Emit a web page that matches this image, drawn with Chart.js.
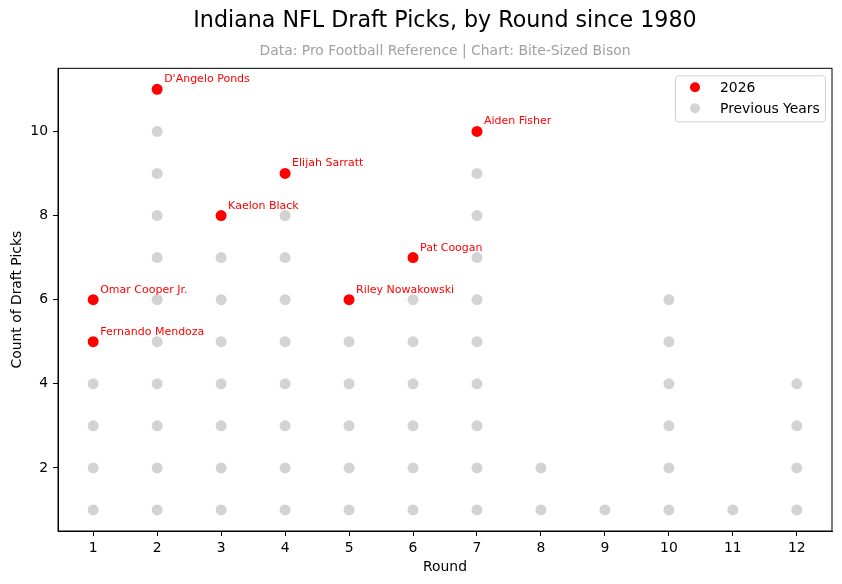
<!DOCTYPE html>
<html>
<head>
<meta charset="utf-8">
<script src="https://cdn.jsdelivr.net/npm/chart.js@4"></script>
<style>
  body { margin: 0; background: #fff; }
  #wrap { width: 842px; height: 584px; }
</style>
</head>
<body>
<div id="wrap"><canvas id="myChart" width="842" height="584"></canvas></div>
<script>
// 2026 picks
const picks2026 = [
  'Fernando Mendoza',
  'Omar Cooper Jr.',
  "D'Angelo Ponds",
  'Kaelon Black',
  'Elijah Sarratt',
  'Riley Nowakowski',
  'Pat Coogan',
  'Aiden Fisher',
];
const rounds2026 = [1, 1, 2, 3, 4, 5, 6, 7];
const counts2026 = [5, 6, 11, 8, 9, 6, 7, 10];

// previous years, one point per pick
const prevRounds = [
  1, 1, 1, 1,
  2, 2, 2, 2, 2, 2, 2, 2, 2, 2,
  3, 3, 3, 3, 3, 3, 3,
  4, 4, 4, 4, 4, 4, 4, 4,
  5, 5, 5, 5, 5,
  6, 6, 6, 6, 6, 6,
  7, 7, 7, 7, 7, 7, 7, 7, 7,
  8, 8,
  9,
  10, 10, 10, 10, 10, 10,
  11,
  12, 12, 12, 12,
];
const prevCounts = [
  1, 2, 3, 4,
  1, 2, 3, 4, 5, 6, 7, 8, 9, 10,
  1, 2, 3, 4, 5, 6, 7,
  1, 2, 3, 4, 5, 6, 7, 8,
  1, 2, 3, 4, 5,
  1, 2, 3, 4, 5, 6,
  1, 2, 3, 4, 5, 6, 7, 8, 9,
  1, 2,
  1,
  1, 2, 3, 4, 5, 6,
  1,
  1, 2, 3, 4,
];

const xTicks = [1, 2, 3, 4, 5, 6, 7, 8, 9, 10, 11, 12];
const yTicks = [2, 4, 6, 8, 10];

const FONT = "'DejaVu Sans', sans-serif";
const RED = '#ff0000';
const GREY = '#d3d3d3';

const toPoints = (xs, ys) => xs.map((x, i) => ({ x: x, y: ys[i] }));

// frame round the plot area
const frame = {
  id: 'frame',
  afterDraw(chart) {
    const { ctx, chartArea: a } = chart;
    ctx.save();
    ctx.strokeStyle = '#000';
    ctx.lineWidth = 1;
    ctx.strokeRect(a.left, a.top, a.right - a.left, a.bottom - a.top);
    ctx.restore();
  },
};

// player names next to the red points
const pickLabels = {
  id: 'pickLabels',
  afterDatasetsDraw(chart) {
    const { ctx, scales } = chart;
    ctx.save();
    ctx.font = '11px ' + FONT;
    ctx.fillStyle = RED;
    ctx.textAlign = 'left';
    ctx.textBaseline = 'alphabetic';
    picks2026.forEach((name, i) => {
      const px = scales.x.getPixelForValue(rounds2026[i]);
      const py = scales.y.getPixelForValue(counts2026[i]);
      ctx.fillText(name, px + 7, py - 7);
    });
    ctx.restore();
  },
};

// matplotlib-like legend, upper right
const boxLegend = {
  id: 'boxLegend',
  afterDraw(chart) {
    const { ctx, chartArea: a } = chart;
    const w = 150, h = 46;
    const x0 = a.right - 7 - w, y0 = a.top + 7;
    ctx.save();
    ctx.fillStyle = 'rgba(255,255,255,0.8)';
    ctx.strokeStyle = '#d0d0d0';
    ctx.lineWidth = 1;
    ctx.beginPath();
    ctx.roundRect(x0 + 0.5, y0 + 0.5, w, h, 3);
    ctx.fill();
    ctx.stroke();
    ctx.font = '13.9px ' + FONT;
    ctx.textBaseline = 'middle';
    chart.data.datasets.forEach((ds, i) => {
      const cy = y0 + 12 + i * 21;
      ctx.fillStyle = ds.backgroundColor;
      ctx.beginPath();
      ctx.arc(x0 + 20, cy, 5, 0, Math.PI * 2);
      ctx.fill();
      ctx.fillStyle = '#000';
      ctx.fillText(ds.label, x0 + 45, cy + 1);
    });
    ctx.restore();
  },
};

const ctx = document.getElementById('myChart').getContext('2d');
const myChart = new Chart(ctx, {
  type: 'scatter',
  data: {
    datasets: [
      {
        label: '2026',
        data: toPoints(rounds2026, counts2026),
        backgroundColor: RED,
        borderColor: RED,
        pointRadius: 5.5,
        borderWidth: 0,
      },
      {
        label: 'Previous Years',
        data: toPoints(prevRounds, prevCounts),
        backgroundColor: GREY,
        borderColor: GREY,
        pointRadius: 5.5,
        borderWidth: 0,
      },
    ],
  },
  options: {
    responsive: false,
    animation: false,
    devicePixelRatio: 1,
    layout: { padding: { left: 0, right: 10, top: 0, bottom: 0 } },
    plugins: {
      legend: { display: false },
      tooltip: { enabled: false },
      title: {
        display: true,
        fullSize: false,
        text: 'Indiana NFL Draft Picks, by Round since 1980',
        color: '#000',
        font: { family: FONT, size: 22.2, weight: 'normal' },
        padding: { top: 8, bottom: 8 },
      },
      subtitle: {
        display: true,
        fullSize: false,
        text: 'Data: Pro Football Reference | Chart: Bite-Sized Bison',
        color: '#a0a0a0',
        font: { family: FONT, size: 13.9, weight: 'normal' },
        padding: { top: 0, bottom: 9 },
      },
    },
    scales: {
      x: {
        type: 'linear',
        min: 0.45,
        max: 12.55,
        afterBuildTicks: (scale) => {
          scale.ticks = xTicks.map((v) => ({ value: v }));
        },
        afterFit: (scale) => {
          scale.height = 53;
        },
        ticks: {
          color: '#000',
          padding: 4,
          font: { family: FONT, size: 13.9 },
          maxRotation: 0,
          autoSkip: false,
        },
        grid: {
          drawOnChartArea: false,
          drawTicks: true,
          tickLength: 5,
          color: '#000',
        },
        border: { display: true, color: '#000' },
        title: {
          display: true,
          text: 'Round',
          color: '#000',
          font: { family: FONT, size: 13.9 },
          padding: { top: 0, bottom: 8 },
        },
      },
      y: {
        type: 'linear',
        min: 0.5,
        max: 11.5,
        afterBuildTicks: (scale) => {
          scale.ticks = yTicks.map((v) => ({ value: v }));
        },
        afterFit: (scale) => {
          scale.width = 58;
        },
        ticks: {
          color: '#000',
          padding: 5,
          font: { family: FONT, size: 13.9 },
        },
        grid: {
          drawOnChartArea: false,
          drawTicks: true,
          tickLength: 5,
          color: '#000',
        },
        border: { display: true, color: '#000' },
        title: {
          display: true,
          text: 'Count of Draft Picks',
          color: '#000',
          font: { family: FONT, size: 13.9 },
          padding: { top: 9, bottom: 0 },
        },
      },
    },
  },
  plugins: [frame, pickLabels, boxLegend],
});
</script>
</body>
</html>
